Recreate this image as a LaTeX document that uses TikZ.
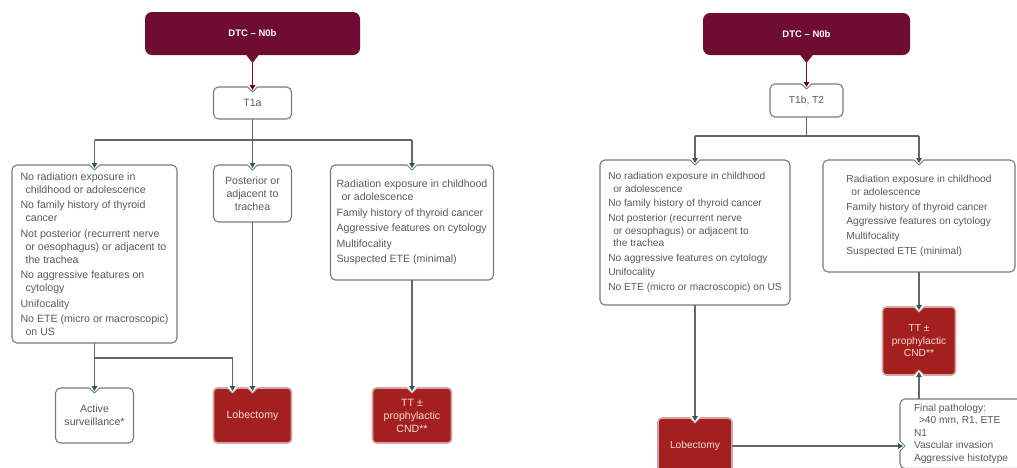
\documentclass[tikz,border=0pt]{standalone}
\usepackage{fontspec}
\setmainfont{Liberation Sans}
\usetikzlibrary{positioning,calc,arrows.meta}

\definecolor{maroon}{HTML}{6E0D31}
\definecolor{redfill}{HTML}{A4201F}
\definecolor{redline}{HTML}{D8A3A3}
\definecolor{linegray}{HTML}{666666}
\definecolor{boxgray}{HTML}{7A7A7A}
\definecolor{textgray}{HTML}{5A5A5A}
\definecolor{tipcol}{HTML}{2F5A55}
\definecolor{pinktext}{HTML}{F6DADA}

% V-shaped cut where an arrow enters a box
\newcommand{\notch}[3][]{%
  \begin{scope}[shift={#2},#1]
    \fill[white] (-5.5,-1.3) -- (0,5) -- (5.5,-1.3) -- cycle;
    \draw[#3,line width=1pt,line join=round] (-5,0) -- (0,5) -- (5,0);
  \end{scope}}
\newcommand{\tail}[1]{\fill[maroon] ($(#1.south)+(-7,-1)$) -- ($(#1.south)+(0,8)$) -- ($(#1.south)+(7,-1)$) -- cycle;}

\begin{document}
\begin{tikzpicture}[
    x=1pt, y=-1pt,
    >={Triangle[length=5pt,width=5.5pt,color=tipcol]},
    topbox/.style={fill=maroon,rounded corners=7pt,text=white,outer sep=0pt,
        font=\bfseries\fontsize{9.5}{11}\selectfont},
    wbox/.style={draw=boxgray,fill=white,rounded corners=5pt,line width=1.1pt,text=textgray,
        inner sep=4pt,outer sep=0pt,align=center},
    rbox/.style={draw=redline,fill=redfill,rounded corners=4pt,line width=1.6pt,text=pinktext,
        outer sep=0pt,align=center,minimum width=78pt,minimum height=55pt},
    lfont/.style={font=\fontsize{10.6}{13}\selectfont},
    rfont/.style={font=\fontsize{10.2}{12.5}\selectfont},
    line/.style={draw=linegray,line width=1.4pt},
    arr/.style={line,->,shorten >=-3pt}
    ]
    \useasboundingbox (0,0) rectangle (1017,467);
    \clip (0,0) rectangle (1017,467);

    % T1a
    \node [topbox,minimum width=215pt,minimum height=43pt](topL) at (252.5,33.5) {DTC -- N0b};
    \node [wbox,lfont,minimum width=78pt,minimum height=32pt](t1a) [below=32pt of topL] {T1a};
    \node [wbox,lfont,minimum width=78pt,minimum height=57pt](post) [below=46pt of t1a] {Posterior or\\adjacent to\\trachea};
    \node [wbox,lfont,align=left,minimum width=165pt,minimum height=178pt,anchor=north](critL) at (94.5,165) {%
        No radiation exposure in\\
        \hspace*{5pt}childhood or adolescence\\[2.5pt]
        No family history of thyroid\\
        \hspace*{5pt}cancer\\[2.5pt]
        Not posterior (recurrent nerve\\
        \hspace*{5pt}or oesophagus) or adjacent to\\
        \hspace*{5pt}the trachea\\[2.5pt]
        No aggressive features on\\
        \hspace*{5pt}cytology\\[2.5pt]
        Unifocality\\[2.5pt]
        No ETE (micro or macroscopic)\\
        \hspace*{5pt}on US};
    \node [wbox,lfont,align=left,minimum width=163pt,minimum height=115pt,anchor=north](rightL) at (412,165) {%
        Radiation exposure in childhood\\
        \hspace*{5pt}or adolescence\\[2.5pt]
        Family history of thyroid cancer\\[2.5pt]
        Aggressive features on cytology\\[2.5pt]
        Multifocality\\[2.5pt]
        Suspected ETE (minimal)};
    \node [rbox,lfont](lobL) [below=166pt of post] {Lobectomy};
    \node [wbox,lfont,minimum width=78pt,minimum height=55pt](active) [left=80pt of lobL] {Active\\surveillance*};
    \node [rbox,lfont,minimum width=79pt](ttL) [right=81pt of lobL] {TT ±\\prophylactic\\CND**};

    % T1b, T2
    \node [topbox,minimum width=207pt,minimum height=42pt](topR) at (806.5,34) {DTC -- N0b};
    \node [wbox,rfont,minimum width=73pt,minimum height=33pt](t1b) [below=29pt of topR] {T1b, T2};
    \node [wbox,rfont,align=left,minimum width=190pt,minimum height=145pt,anchor=north](critR) at (695,160) {%
        No radiation exposure in childhood\\
        \hspace*{5pt}or adolescence\\[2.2pt]
        No family history of thyroid cancer\\[2.2pt]
        Not posterior (recurrent nerve\\
        \hspace*{5pt}or oesophagus) or adjacent to\\
        \hspace*{5pt}the trachea\\[2.2pt]
        No aggressive features on cytology\\[2.2pt]
        Unifocality\\[2.2pt]
        No ETE (micro or macroscopic) on US};
    \node [wbox,rfont,align=left,minimum width=192pt,minimum height=112pt,anchor=north](rightR) at (919,160) {%
        Radiation exposure in childhood\\
        \hspace*{5pt}or adolescence\\[2.2pt]
        Family history of thyroid cancer\\[2.2pt]
        Aggressive features on cytology\\[2.2pt]
        Multifocality\\[2.2pt]
        Suspected ETE (minimal)};
    \node [rbox,rfont,minimum width=73pt,minimum height=68pt](ttR) [below=35pt of rightR] {TT ±\\prophylactic\\CND**};
    \node [rbox,rfont,minimum width=74pt,minimum height=56pt](lobR) [below=113pt of critR] {Lobectomy};
    \node [wbox,rfont,align=left,inner xsep=14pt,inner ysep=5pt,anchor=north west](final)
        at ($(lobR.north east)+(168,-19)$) {%
        Final pathology:\\
        \hspace*{5pt}>40 mm, R1, ETE\\
        N1\\
        Vascular invasion\\
        Aggressive histotype};

    \tail{topL}
    \tail{topR}
    \coordinate (tipL) at ($(topL.south)+(0,8)$);
    \coordinate (tipR) at ($(topR.south)+(0,8)$);
    \coordinate (busL) at ($(t1a.south)+(0,21)$);
    \coordinate (busR) at ($(t1b.south)+(0,19)$);
    \coordinate (jL) at ($(critL.south)+(0,15)$);
    \coordinate (lobIn) at ($(lobL.north)+(-20,0)$);
    \coordinate (finIn) at (lobR.east -| final.west);
    \coordinate (finOut) at (ttR.south |- final.north);

    \notch{(t1a.north)}{boxgray}
    \notch{(critL.north)}{boxgray}
    \notch{(post.north)}{boxgray}
    \notch{(rightL.north)}{boxgray}
    \notch{(active.north)}{boxgray}
    \notch{(lobIn)}{redline}
    \notch{(lobL.north)}{redline}
    \notch{(ttL.north)}{redline}
    \notch{(t1b.north)}{boxgray}
    \notch{(critR.north)}{boxgray}
    \notch{(rightR.north)}{boxgray}
    \notch{(ttR.north)}{redline}
    \notch{(lobR.north)}{redline}
    \notch[rotate=180]{(ttR.south)}{redline}
    \notch[rotate=90]{(finIn)}{boxgray}

    \draw [maroon,line width=1.3pt,->,>={Triangle[length=5pt,width=5.5pt,color=maroon!80!black]},shorten >=-3pt] (tipL) -- (t1a.north);
    \draw [line] (t1a.south) -- (busL);
    \draw [line] (critL.north |- busL) -- (rightL.north |- busL);
    \draw [arr] (critL.north |- busL) -- (critL.north);
    \draw [arr] (busL) -- (post.north);
    \draw [arr] (rightL.north |- busL) -- (rightL.north);
    \draw [arr] (critL.south) -- (active.north);
    \draw [arr] (jL) -| (lobIn);
    \draw [arr] (post.south) -- (lobL.north);
    \draw [arr] (rightL.south) -- (ttL.north);

    \draw [maroon,line width=1.3pt,->,>={Triangle[length=5pt,width=5.5pt,color=maroon!80!black]},shorten >=-3pt] (tipR) -- (t1b.north);
    \draw [line] (t1b.south) -- (busR);
    \draw [line] (critR.north |- busR) -- (rightR.north |- busR);
    \draw [arr] (critR.north |- busR) -- (critR.north);
    \draw [arr] (rightR.north |- busR) -- (rightR.north);
    \draw [arr] (rightR.south) -- (ttR.north);
    \draw [arr] (critR.south) -- (lobR.north);
    \draw [arr] (lobR.east) -- (finIn);
    \draw [arr] (finOut) -- (ttR.south);
\end{tikzpicture}
\end{document}
